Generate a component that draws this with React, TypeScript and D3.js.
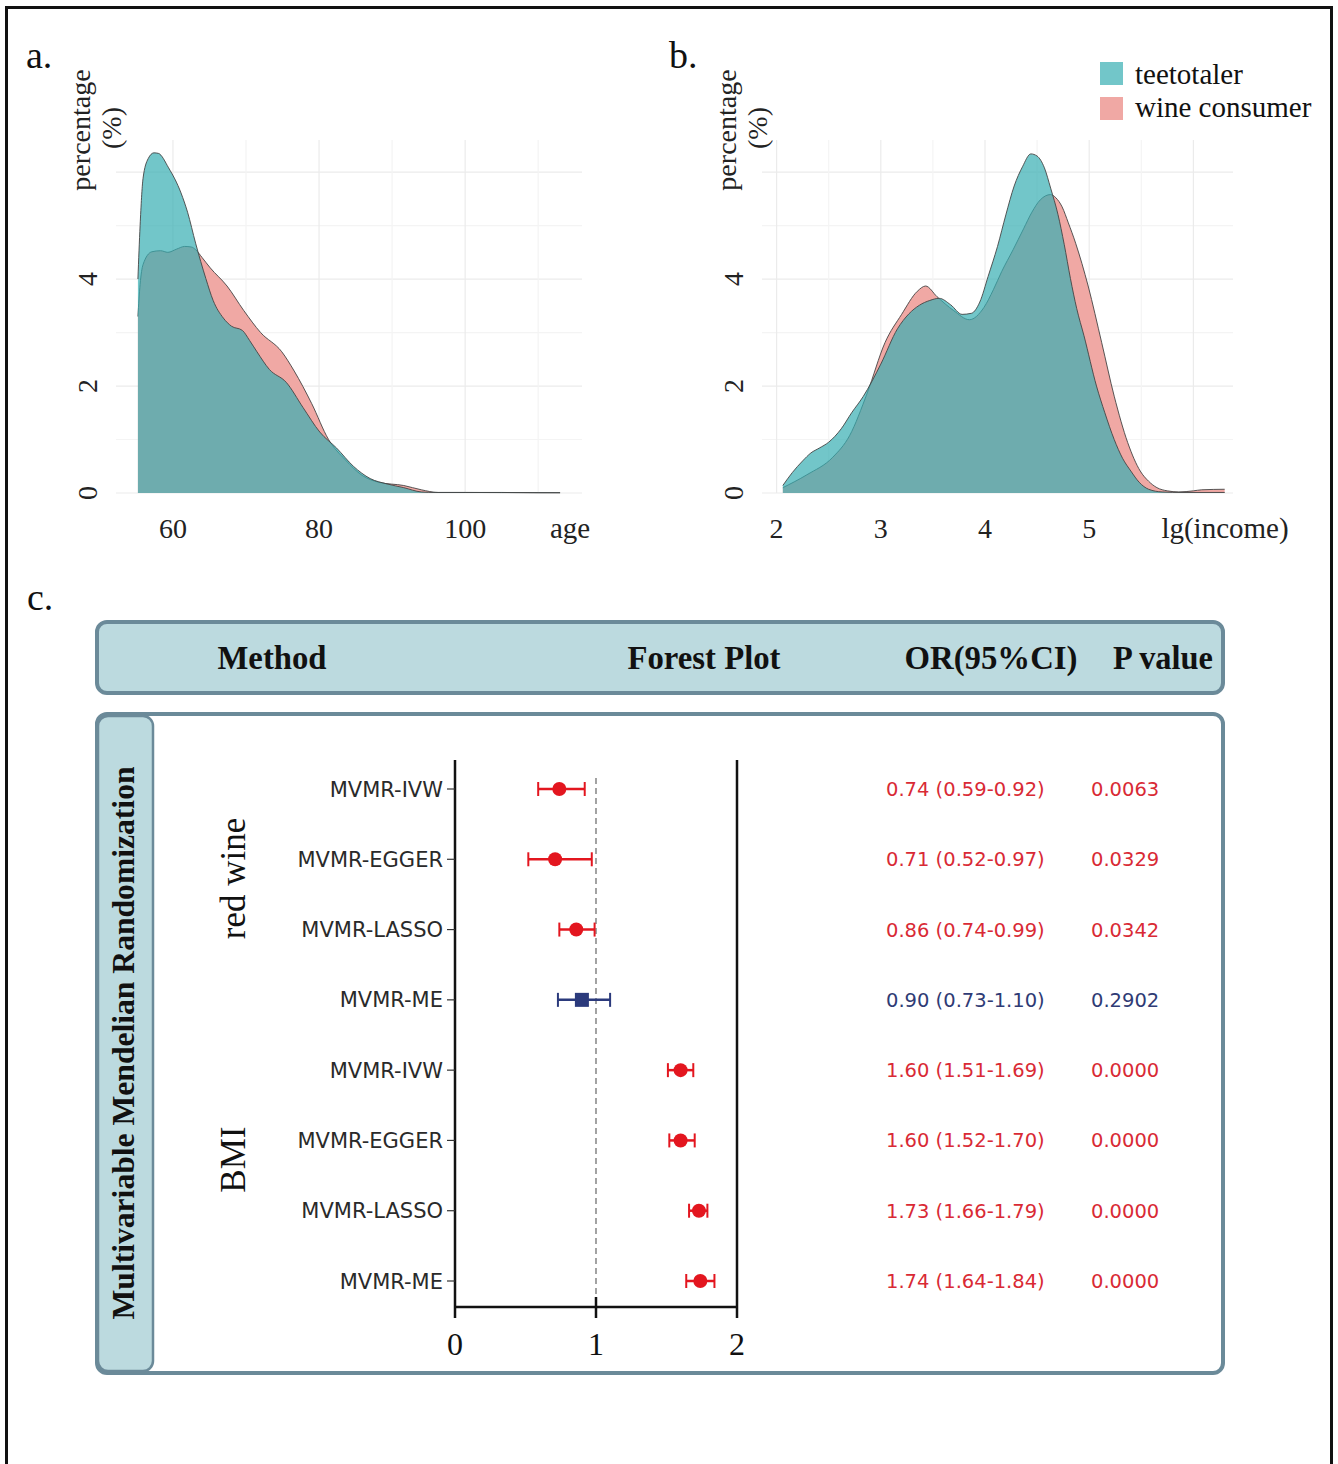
import React from "react";
import * as d3 from "d3";

// ---- panel a: age density (percentage) ----
const ageTeeX = [55.2, 55.5, 55.9, 56.6, 57.4, 58.0, 59.4, 61.1, 62.0, 63.1, 64.5, 65.5, 66.9, 68.0, 69.5, 70.5, 71.5, 73.2, 75.5, 77.8, 80.1, 82.4, 84.7, 87.0, 89.3, 91.6, 94.0, 96.0, 100, 105, 110, 113];
const ageTeeY = [4.0, 5.0, 5.88, 6.25, 6.36, 6.35, 6.08, 5.61, 5.25, 4.67, 4.01, 3.6, 3.27, 3.12, 3.04, 2.85, 2.64, 2.31, 2.07, 1.6, 1.14, 0.84, 0.5, 0.27, 0.17, 0.1, 0.02, 0.01, 0.01, 0.01, 0.005, 0.005];
const ageWineX = [55.2, 55.5, 55.9, 57.1, 58.3, 59.3, 60.5, 61.6, 62.5, 63.1, 64.0, 65.1, 67.4, 69.7, 72.0, 74.9, 76.6, 79.0, 81.3, 83.6, 85.9, 88.2, 91.6, 94.0, 96.3, 100, 113];
const ageWineY = [3.3, 3.9, 4.27, 4.51, 4.53, 4.5, 4.56, 4.61, 4.6, 4.55, 4.4, 4.21, 3.87, 3.41, 3.0, 2.64, 2.28, 1.67, 1.0, 0.62, 0.33, 0.2, 0.14, 0.06, 0.01, 0.01, 0.005];

// ---- panel b: lg(income) density ----
const incTeeX = [2.06, 2.15, 2.25, 2.33, 2.41, 2.5, 2.62, 2.72, 2.83, 3.0, 3.16, 3.27, 3.37, 3.47, 3.56, 3.67, 3.78, 3.87, 3.95, 4.03, 4.12, 4.2, 4.28, 4.36, 4.44, 4.5, 4.57, 4.63, 4.7, 4.76, 4.82, 4.88, 4.95, 5.07, 5.15, 5.24, 5.32, 5.4, 5.48, 5.57, 5.7, 5.9, 6.3];
const incTeeY = [0.14, 0.38, 0.6, 0.75, 0.84, 0.95, 1.2, 1.5, 1.8, 2.41, 3.07, 3.35, 3.51, 3.6, 3.64, 3.52, 3.34, 3.36, 3.57, 4.05, 4.61, 5.2, 5.74, 6.1, 6.34, 6.3, 6.08, 5.7, 5.21, 4.65, 4.01, 3.45, 2.94, 2.0, 1.5, 1.0, 0.65, 0.41, 0.2, 0.07, 0.02, 0.01, 0.01];
const incWineX = [2.06, 2.29, 2.54, 2.7, 2.87, 3.04, 3.2, 3.35, 3.43, 3.54, 3.7, 3.85, 3.99, 4.08, 4.16, 4.27, 4.37, 4.45, 4.53, 4.63, 4.68, 4.74, 4.8, 4.87, 4.99, 5.12, 5.24, 5.37, 5.49, 5.57, 5.65, 5.75, 5.86, 6.0, 6.08, 6.3];
const incWineY = [0.1, 0.34, 0.67, 1.07, 1.87, 2.81, 3.34, 3.77, 3.87, 3.67, 3.41, 3.24, 3.47, 3.8, 4.14, 4.55, 4.94, 5.25, 5.48, 5.58, 5.52, 5.35, 5.05, 4.67, 3.87, 2.81, 1.81, 0.94, 0.41, 0.22, 0.1, 0.04, 0.02, 0.04, 0.06, 0.07];

const yTicks = [0, 2, 4];
const ageTicks = [60, 80, 100];
const incTicks = [2, 3, 4, 5];
const groups = ["teetotaler", "wine consumer"];

// ---- panel c: forest plot ----
const exposures = ["red wine", "BMI"];
const methods = ["MVMR-IVW", "MVMR-EGGER", "MVMR-LASSO", "MVMR-ME"];
const orValues = [0.74, 0.71, 0.86, 0.9, 1.6, 1.6, 1.73, 1.74];
const lowerCI = [0.59, 0.52, 0.74, 0.73, 1.51, 1.52, 1.66, 1.64];
const upperCI = [0.92, 0.97, 0.99, 1.1, 1.69, 1.7, 1.79, 1.84];
const pValues = [0.0063, 0.0329, 0.0342, 0.2902, 0.0, 0.0, 0.0, 0.0];
const forestTicks = [0, 1, 2];

const SERIF = "'Liberation Serif', 'Times New Roman', serif";
const SANS = "'DejaVu Sans', sans-serif";
const TEAL = "rgb(54,174,178)";
const PINK = "rgb(240,168,164)";
const RED = "#e3161f";
const NAVY = "#2b3a7c";
const BOXFILL = "#bcdadf";
const BOXLINE = "#6b8a99";

const y = d3.scaleLinear().domain([0, 6.6]).range([493, 140]);

function Density({ xs, teeX, teeY, wineX, wineY, grid, gridMinor, ticks, label, labelX, panelLeft, panelRight, tag, tagX }) {
  const tee = teeX.map((v, i) => [v, teeY[i]]);
  const wine = wineX.map((v, i) => [v, wineY[i]]);
  const area = d3.area().x((d) => xs(d[0])).y0(y(0)).y1((d) => y(d[1])).curve(d3.curveMonotoneX);
  const line = d3.line().x((d) => xs(d[0])).y((d) => y(d[1])).curve(d3.curveMonotoneX);
  const hGrid = d3.range(0, 7, 1);
  return (
    <g>
      {hGrid.map((v) => (
        <line key={"h" + v} x1={panelLeft} x2={panelRight} y1={y(v)} y2={y(v)} stroke={v % 2 === 0 ? "#ebebeb" : "#f4f4f4"} strokeWidth={1.2} />
      ))}
      {grid.map((v) => (
        <line key={"v" + v} x1={xs(v)} x2={xs(v)} y1={140} y2={y(0)} stroke={gridMinor.includes(v) ? "#f4f4f4" : "#ebebeb"} strokeWidth={1.2} />
      ))}
      <path d={area(wine)} fill={PINK} />
      <path d={line(wine)} fill="none" stroke="#444" strokeWidth={0.9} />
      <path d={area(tee)} fill={TEAL} fillOpacity={0.7} />
      <path d={line(tee)} fill="none" stroke="#444" strokeWidth={0.9} />
      {ticks.map((t) => (
        <text key={"t" + t} x={xs(t)} y={538} fontFamily={SERIF} fontSize={28} textAnchor="middle" fill="#222">
          {t}
        </text>
      ))}
      <text x={labelX} y={538} fontFamily={SERIF} fontSize={29} textAnchor="middle" fill="#222">
        {label}
      </text>
      {yTicks.map((t) => (
        <text key={"y" + t} transform={`translate(${panelLeft - 19},${y(t)}) rotate(-90)`} fontFamily={SERIF} fontSize={28} textAnchor="middle" fill="#222">
          {t}
        </text>
      ))}
      <text transform={`translate(${panelLeft - 26},130) rotate(-90)`} fontFamily={SERIF} fontSize={28} textAnchor="middle" fill="#222">
        percentage
      </text>
      <text transform={`translate(${panelLeft + 5},128) rotate(-90)`} fontFamily={SERIF} fontSize={28} textAnchor="middle" fill="#222">
        (%)
      </text>
      <text x={tagX} y={68} fontFamily={SERIF} fontSize={38} fill="#111">
        {tag}
      </text>
    </g>
  );
}

function Forest() {
  const x = d3.scaleLinear().domain([0, 2]).range([455, 737]);
  const rows = d3.range(orValues.length);
  const ry = d3.scalePoint().domain(rows.map(String)).range([789, 1281]);
  const top = 760;
  const axisY = 1307;
  const colorOf = (i) => (pValues[i] < 0.05 ? RED : NAVY);
  const textColorOf = (i) => (pValues[i] < 0.05 ? "#d92a35" : "#2f3b75");

  const headers = [
    { t: "Method", cx: 272, w: 109 },
    { t: "Forest Plot", cx: 704, w: 153 },
    { t: "OR(95%CI)", cx: 991, w: 173 },
    { t: "P value", cx: 1163, w: 100 },
  ];
  const strip = "Multivariable Mendelian Randomization";

  return (
    <g>
      <text x={27} y={610} fontFamily={SERIF} fontSize={38} fill="#111">c.</text>

      {/* header box */}
      <rect x={97} y={622} width={1126} height={71} rx={10} fill={BOXFILL} stroke={BOXLINE} strokeWidth={4} />
      {headers.map((h) => (
        <text key={h.t} x={h.cx - h.w / 2} y={669} fontFamily={SERIF} fontWeight="bold" fontSize={33} textLength={h.w} lengthAdjust="spacingAndGlyphs" fill="#111">
          {h.t}
        </text>
      ))}

      {/* body box */}
      <rect x={97} y={714} width={1126} height={659} rx={10} fill="#fff" stroke={BOXLINE} strokeWidth={4} />
      <rect x={98} y={716} width={55} height={655} rx={10} fill={BOXFILL} stroke={BOXLINE} strokeWidth={2.5} />
      <text transform="translate(134,1043) rotate(-90)" fontFamily={SERIF} fontWeight="bold" fontSize={31} textAnchor="middle" textLength={553} lengthAdjust="spacingAndGlyphs" fill="#111">
        {strip}
      </text>

      {/* exposure labels */}
      {exposures.map((e, gi) => {
        const cy = (ry(String(gi * 4)) + ry(String(gi * 4 + 3))) / 2 - 16;
        return (
          <text key={e} transform={`translate(245,${cy}) rotate(-90)`} fontFamily={SERIF} fontSize={35} textAnchor="middle" fill="#111">
            {e}
          </text>
        );
      })}

      {/* axes frame */}
      <line x1={x(1)} x2={x(1)} y1={778} y2={axisY - 10} stroke="#999" strokeWidth={1.8} strokeDasharray="6,4" />
      <line x1={x(0)} x2={x(0)} y1={top} y2={axisY + 11} stroke="#111" strokeWidth={2.5} />
      <line x1={x(2)} x2={x(2)} y1={top} y2={axisY + 11} stroke="#111" strokeWidth={2.5} />
      <line x1={x(0)} x2={x(2)} y1={axisY} y2={axisY} stroke="#111" strokeWidth={2.5} />
      <line x1={x(1)} x2={x(1)} y1={axisY - 10} y2={axisY + 11} stroke="#111" strokeWidth={2.5} />
      {forestTicks.map((t) => (
        <text key={t} x={x(t)} y={1355} fontFamily={SERIF} fontSize={32} textAnchor="middle" fill="#111">
          {t}
        </text>
      ))}

      {rows.map((i) => {
        const cy = ry(String(i));
        const c = colorOf(i);
        const sig = pValues[i] < 0.05;
        return (
          <g key={i}>
            <line x1={x(0) - 8} x2={x(0)} y1={cy} y2={cy} stroke="#333" strokeWidth={1.2} />
            <text x={443} y={cy + 7.5} fontFamily={SANS} fontSize={21} textAnchor="end" fill="#2a2a2a">
              {methods[i % 4]}
            </text>
            <line x1={x(lowerCI[i])} x2={x(upperCI[i])} y1={cy} y2={cy} stroke={c} strokeWidth={2.5} />
            <line x1={x(lowerCI[i])} x2={x(lowerCI[i])} y1={cy - 7} y2={cy + 7} stroke={c} strokeWidth={2} />
            <line x1={x(upperCI[i])} x2={x(upperCI[i])} y1={cy - 7} y2={cy + 7} stroke={c} strokeWidth={2} />
            {sig ? (
              <circle cx={x(orValues[i])} cy={cy} r={7} fill={c} />
            ) : (
              <rect x={x(orValues[i]) - 7} y={cy - 7} width={14} height={14} fill={c} />
            )}
            <text x={886} y={cy + 7} fontFamily={SANS} fontSize={19.5} fill={textColorOf(i)}>
              {`${orValues[i].toFixed(2)} (${lowerCI[i].toFixed(2)}-${upperCI[i].toFixed(2)})`}
            </text>
            <text x={1091} y={cy + 7} fontFamily={SANS} fontSize={19.5} fill={textColorOf(i)}>
              {pValues[i].toFixed(4)}
            </text>
          </g>
        );
      })}
    </g>
  );
}

export default function App() {
  const xAge = d3.scaleLinear().domain([52.2, 116]).range([116, 582]);
  const xInc = d3.scaleLinear().domain([1.86, 6.38]).range([762, 1233]);
  const legendColors = [TEAL, PINK];
  return (
    <svg width={1338} height={1464} style={{ position: "absolute", left: 0, top: 0, background: "#fff" }}>
      <rect x={0} y={0} width={1338} height={1464} fill="#fff" />
      <rect x={6.5} y={7.5} width={1325} height={1500} fill="none" stroke="#111" strokeWidth={3} />
      <Density
        xs={xAge}
        teeX={ageTeeX}
        teeY={ageTeeY}
        wineX={ageWineX}
        wineY={ageWineY}
        grid={[60, 70, 80, 90, 100, 110]}
        gridMinor={[70, 90, 110]}
        ticks={ageTicks}
        label="age"
        labelX={570}
        panelLeft={116}
        panelRight={582}
        tag="a."
        tagX={26}
      />
      <Density
        xs={xInc}
        teeX={incTeeX}
        teeY={incTeeY}
        wineX={incWineX}
        wineY={incWineY}
        grid={d3.range(2, 6.01, 0.5)}
        gridMinor={[2.5, 3.5, 4.5, 5.5]}
        ticks={incTicks}
        label="lg(income)"
        labelX={1225}
        panelLeft={762}
        panelRight={1233}
        tag="b."
        tagX={669}
      />
      {groups.map((g, i) => (
        <g key={g}>
          <rect x={1100} y={62 + i * 35} width={23} height={23} fill={legendColors[i]} fillOpacity={i === 0 ? 0.7 : 1} />
          <text x={1135} y={84 + i * 33} fontFamily={SERIF} fontSize={29} fill="#111">
            {g}
          </text>
        </g>
      ))}
      <Forest />
    </svg>
  );
}
